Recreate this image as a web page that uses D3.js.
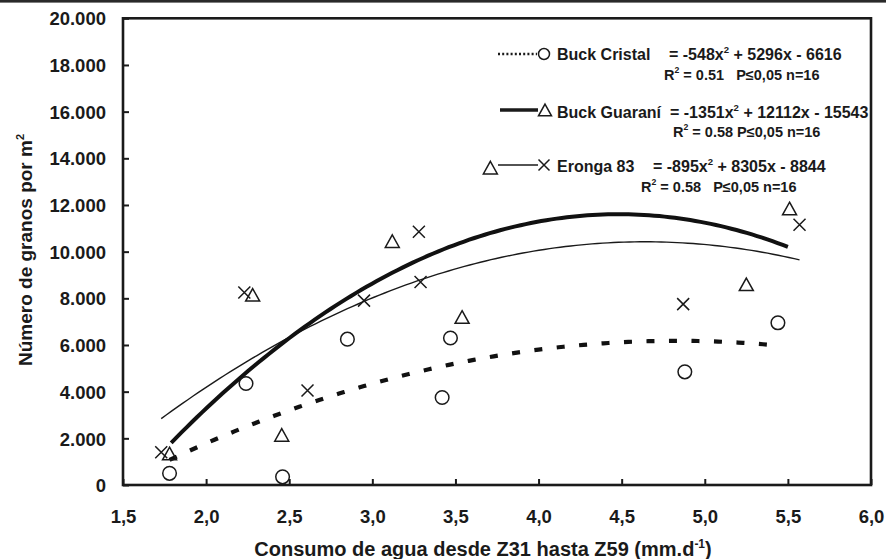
<!DOCTYPE html>
<html>
<head>
<meta charset="utf-8">
<script src="https://cdn.jsdelivr.net/npm/d3@7"></script>
<style>
  html, body { margin: 0; padding: 0; background: #fff; }
  svg { display: block; }
  text { font-family: "Liberation Sans", Arial, sans-serif; font-weight: bold; fill: #1a1a1a; white-space: pre; }
</style>
</head>
<body>
<svg id="chart" width="886" height="559"></svg>
<script>
// ---- data ----
const xTicks = [1.5, 2.0, 2.5, 3.0, 3.5, 4.0, 4.5, 5.0, 5.5, 6.0];
const yTicks = [0, 2000, 4000, 6000, 8000, 10000, 12000, 14000, 16000, 18000, 20000];

const cristalX = [1.78, 2.24, 2.46, 2.85, 3.42, 3.47, 4.88, 5.44];
const cristalY = [500, 4350, 350, 6250, 3750, 6300, 4850, 6950];

const guaraniX = [1.78, 2.28, 2.455, 3.12, 3.54, 3.71, 5.25, 5.51];
const guaraniY = [1350, 8150, 2150, 10450, 7200, 13600, 8600, 11850];

const erongaX = [1.73, 2.23, 2.61, 2.95, 3.28, 3.29, 4.87, 5.57];
const erongaY = [1400, 8250, 4050, 7900, 10850, 8700, 7750, 11150];

// fitted quadratic trend lines as printed on the chart: a*x^2 + b*x + c
const cristalFit = [-548, 5296, -6616];
const guaraniFit = [-1351, 12112, -15543];
const erongaFit = [-895, 8305, -8844];
const cristalRange = [1.78, 5.38];
const guaraniRange = [1.79, 5.50];
const erongaRange = [1.73, 5.57];

const legendNames = ["Buck Cristal", "Buck Guaraní", "Eronga 83"];
const legendEq = [
  [["= -548x"], ["2", true], [" + 5296x - 6616"]],
  [["= -1351x"], ["2", true], [" + 12112x - 15543"]],
  [["= -895x"], ["2", true], [" + 8305x - 8844"]]
];
const legendStats = [
  [["R"], ["2", true], [" = 0.51   P≤0,05 n=16"]],
  [["R"], ["2", true], [" = 0.58 P≤0,05 n=16"]],
  [["R"], ["2", true], [" = 0.58   P≤0,05 n=16"]]
];

// ---- drawing ----
const svg = d3.select("#chart");
const L = 123, R = 871, T = 18.3, B = 485;
const x = d3.scaleLinear().domain([1.5, 6]).range([L, R]);
const y = d3.scaleLinear().domain([0, 20000]).range([B, T]);
const ink = "#1a1a1a";

// top rule of the page
svg.append("rect").attr("x", 0).attr("y", 0).attr("width", 886).attr("height", 2.6).attr("fill", "#2a2a2a");

// axes
const fmtX = d => d3.format(".1f")(d).replace(".", ",");
const fmtY = d => d === 0 ? "0" : d3.format(",")(d).replace(/,/g, ".");

const gx = svg.append("g").attr("transform", `translate(0,${B})`)
  .call(d3.axisBottom(x).tickValues(xTicks).tickFormat(fmtX).tickSize(-6).tickPadding(25));
const gy = svg.append("g").attr("transform", `translate(${L},0)`)
  .call(d3.axisLeft(y).tickValues(yTicks).tickFormat(fmtY).tickSize(-6).tickPadding(17));
[gx, gy].forEach(g => {
  g.select(".domain").remove();
  g.selectAll(".tick line").attr("stroke", ink).attr("stroke-width", 2);
  g.selectAll(".tick text").attr("fill", ink).style("font-size", "18.5px")
    .style("font-family", "'Liberation Sans', Arial, sans-serif").style("font-weight", "bold");
});
gy.selectAll(".tick text").attr("dy", "0.36em");

// frame
svg.append("rect").attr("x", L).attr("y", T).attr("width", R - L).attr("height", B - T)
  .attr("fill", "none").attr("stroke", ink).attr("stroke-width", 2.6);

// axis titles
const xt = svg.append("text").attr("x", (L + R) / 2 - 14).attr("y", 556).attr("text-anchor", "middle")
  .style("font-size", "20px");
xt.append("tspan").text("Consumo de agua desde Z31 hasta Z59 (mm.d");
xt.append("tspan").text("-1").attr("dy", -8).style("font-size", "12px");
xt.append("tspan").text(")").attr("dy", 8);

const yt = svg.append("text").attr("transform", "translate(32,250) rotate(-90)").attr("text-anchor", "middle")
  .style("font-size", "19px");
yt.append("tspan").text("Número de granos por m");
yt.append("tspan").text("2").attr("dy", -8).style("font-size", "11px");

// trend curves
function curvePts(coef, range) {
  const n = 120, pts = [];
  for (let i = 0; i <= n; i++) {
    const xv = range[0] + (range[1] - range[0]) * i / n;
    pts.push([xv, coef[0] * xv * xv + coef[1] * xv + coef[2]]);
  }
  return pts;
}
const line = d3.line().x(d => x(d[0])).y(d => y(d[1])).curve(d3.curveLinear);

svg.append("path").attr("d", line(curvePts(erongaFit, erongaRange)))
  .attr("fill", "none").attr("stroke", ink).attr("stroke-width", 1.4);
svg.append("path").attr("d", line(curvePts(guaraniFit, guaraniRange)))
  .attr("fill", "none").attr("stroke", "#111").attr("stroke-width", 4);
svg.append("path").attr("d", line(curvePts(cristalFit, cristalRange)))
  .attr("fill", "none").attr("stroke", "#111").attr("stroke-width", 4.2)
  .attr("stroke-dasharray", "8,14.5");

// markers
function circleMark(g, cx, cy, r) {
  g.append("circle").attr("cx", cx).attr("cy", cy).attr("r", r)
    .attr("fill", "none").attr("stroke", ink).attr("stroke-width", 1.5);
}
function triMark(g, cx, cy, s) {
  const h = s * 0.9;
  g.append("path").attr("d", `M${cx},${cy - h / 2}L${cx + s / 2},${cy + h / 2}L${cx - s / 2},${cy + h / 2}Z`)
    .attr("fill", "none").attr("stroke", ink).attr("stroke-width", 1.5).attr("stroke-linejoin", "miter");
}
function xMark(g, cx, cy, s) {
  const h = s / 2;
  g.append("path").attr("d", `M${cx - h},${cy - h}L${cx + h},${cy + h}M${cx - h},${cy + h}L${cx + h},${cy - h}`)
    .attr("fill", "none").attr("stroke", ink).attr("stroke-width", 1.5);
}
const gm = svg.append("g");
cristalX.forEach((v, i) => circleMark(gm, x(v), y(cristalY[i]), 6.8));
guaraniX.forEach((v, i) => triMark(gm, x(v), y(guaraniY[i]), 14));
erongaX.forEach((v, i) => xMark(gm, x(v), y(erongaY[i]), 12));

// legend
function rich(sel, parts, size) {
  parts.forEach(p => {
    if (p[1]) {
      sel.append("tspan").text(p[0]).attr("dy", -7).style("font-size", (size * 0.6) + "px");
    } else {
      const t = sel.append("tspan").text(p[0]);
      if (sel.selectAll("tspan").size() > 1) t.attr("dy", 7);
    }
  });
}
const legLineY = [54, 110, 165];
const legNameX = [557, 557, 557];
const legNameY = [60, 118, 172];
const legEqX = [669, 670, 653];
const legStatX = [664, 673, 641];
const legStatY = [80, 137, 192];
const gl = svg.append("g");

gl.append("line").attr("x1", 498).attr("x2", 537).attr("y1", legLineY[0]).attr("y2", legLineY[0])
  .attr("stroke", ink).attr("stroke-width", 2.6).attr("stroke-dasharray", "2,2.2");
circleMark(gl, 544, legLineY[0], 5.5);
gl.append("line").attr("x1", 500).attr("x2", 538).attr("y1", legLineY[1]).attr("y2", legLineY[1])
  .attr("stroke", ink).attr("stroke-width", 3.5);
triMark(gl, 545, legLineY[1], 13);
gl.append("line").attr("x1", 498).attr("x2", 538).attr("y1", legLineY[2]).attr("y2", legLineY[2])
  .attr("stroke", ink).attr("stroke-width", 1.3);
xMark(gl, 544, legLineY[2], 11);

legendNames.forEach((n, i) => {
  gl.append("text").attr("x", legNameX[i]).attr("y", legNameY[i]).style("font-size", "16px").text(n);
  rich(gl.append("text").attr("x", legEqX[i]).attr("y", legNameY[i]).style("font-size", "16px"), legendEq[i], 16);
  rich(gl.append("text").attr("x", legStatX[i]).attr("y", legStatY[i]).style("font-size", "14.5px"), legendStats[i], 14.5);
});
</script>
</body>
</html>
